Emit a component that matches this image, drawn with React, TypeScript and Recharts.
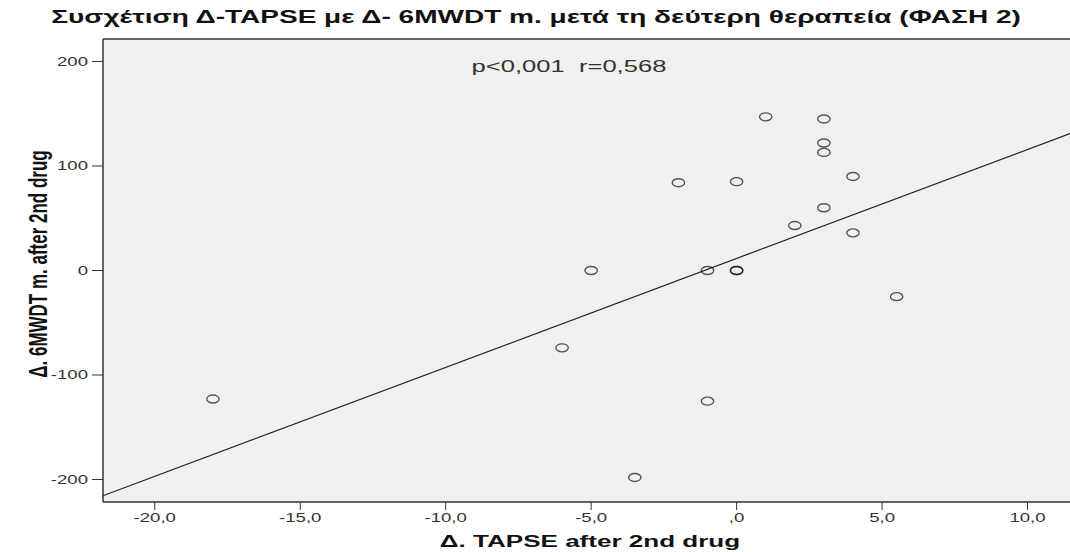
import React, { useLayoutEffect, useRef, useState } from 'react';
import { ScatterChart, Scatter, XAxis, YAxis, CartesianGrid, ReferenceLine } from 'recharts';

// Δ TAPSE (x) and Δ 6MWDT (y) per patient, after the 2nd drug
const tapseDelta = [-18, -6, -5, -3.5, -2, -1, -1, 0, 0, 0, 1, 2, 3, 3, 3, 3, 4, 4, 5.5];
const walkDelta = [-123, -74, 0, -198, 84, 0, -125, 0, 0, 85, 147, 43, 145, 122, 113, 60, 90, 36, -25];

const xTicks = [-20, -15, -10, -5, 0, 5, 10];
const yTicks = [-200, -100, 0, 100, 200];
const xDomain = [-21.78, 11.46];
const yDomain = [-221.5, 221.5];

// fitted line, value at each side of the plot
const fitX = [-21.78, 11.46];
const fitY = [-215.5, 131];

const points = tapseDelta.map((x, i) => ({ x, y: walkDelta[i] }));

const FONT = '"Liberation Sans", Arial, sans-serif';
const S = 1.55; // horizontal stretch of axis text

const fmtX = (v: number) => (v === 0 ? ',0' : v.toFixed(1).replace('.', ','));

const YTick = ({ x, y, payload }: any) => (
  <text
    transform={`translate(${x},${y}) scale(${S},1)`}
    textAnchor="end"
    dy="0.36em"
    fontFamily={FONT}
    fontSize={12}
    fill="#333"
  >
    {payload.value}
  </text>
);

const XTick = ({ x, y, payload }: any) => (
  <text
    transform={`translate(${x},${y}) scale(${S},1)`}
    textAnchor="middle"
    dy="0.75em"
    fontFamily={FONT}
    fontSize={12}
    fill="#333"
  >
    {fmtX(payload.value)}
  </text>
);

const Ring = ({ cx, cy }: any) => (
  <ellipse cx={cx} cy={cy} rx={6.2} ry={4} fill="none" stroke="#000" strokeOpacity={0.65} strokeWidth={1.4} />
);

// centred text squeezed or stretched horizontally to a given width
const FitText = ({ cx, y, width, children, ...rest }: any) => {
  const ref = useRef<SVGTextElement>(null);
  const [k, setK] = useState(1);
  useLayoutEffect(() => {
    if (ref.current) {
      const len = ref.current.getComputedTextLength();
      if (len > 0) setK(width / len);
    }
  }, [width]);
  return (
    <text ref={ref} transform={`translate(${cx},${y}) scale(${k},1)`} textAnchor="middle" {...rest}>
      {children}
    </text>
  );
};

export default function App() {
  return (
    <div style={{ position: 'absolute', left: 0, top: 0, width: 1070, height: 552, background: '#fff' }}>
      <ScatterChart width={1070} height={552} margin={{ top: 39, right: 0, bottom: 0, left: 0 }}>
        <CartesianGrid fill="#f0f0f0" horizontal={false} vertical={false} />
        <XAxis
          type="number"
          dataKey="x"
          domain={xDomain}
          ticks={xTicks}
          allowDataOverflow
          height={50}
          tickSize={8}
          tickMargin={3}
          axisLine={{ stroke: '#333', strokeWidth: 1.5 }}
          tickLine={{ stroke: '#333' }}
          tick={<XTick />}
        />
        <YAxis
          type="number"
          dataKey="y"
          domain={yDomain}
          ticks={yTicks}
          allowDataOverflow
          width={103}
          tickSize={11}
          tickMargin={4}
          axisLine={{ stroke: '#333', strokeWidth: 1.5 }}
          tickLine={{ stroke: '#333' }}
          tick={<YTick />}
        />
        <ReferenceLine y={yDomain[1]} stroke="#333" strokeWidth={1.5} />
        <ReferenceLine
          segment={[
            { x: fitX[0], y: fitY[0] },
            { x: fitX[1], y: fitY[1] },
          ]}
          stroke="#222"
          strokeWidth={1.2}
          ifOverflow="visible"
        />
        <Scatter data={points} shape={<Ring />} isAnimationActive={false} />
      </ScatterChart>
      <svg width={1070} height={552} style={{ position: 'absolute', left: 0, top: 0, pointerEvents: 'none' }}>
        <FitText cx={536} y={23} width={970} fontFamily={FONT} fontWeight="bold" fontSize={18} fill="#111">
          Συσχέτιση Δ-TAPSE με Δ- 6MWDT m. μετά τη δεύτερη θεραπεία (ΦΑΣΗ 2)
        </FitText>
        <text
          transform={`translate(569,72) scale(${S},1)`}
          textAnchor="middle"
          fontFamily={FONT}
          fontSize={16.5}
          fill="#333"
          style={{ whiteSpace: 'pre' }}
        >
          {'p<0,001  r=0,568'}
        </text>
        <text
          transform={`translate(590,547) scale(${S},1)`}
          textAnchor="middle"
          fontFamily={FONT}
          fontWeight="bold"
          fontSize={16.8}
          fill="#111"
        >
          Δ. TAPSE after 2nd drug
        </text>
        <text
          transform={`translate(47,264) scale(${S},1) rotate(-90)`}
          textAnchor="middle"
          fontFamily={FONT}
          fontWeight="bold"
          fontSize={17}
          fill="#111"
        >
          Δ. 6MWDT m. after 2nd drug
        </text>
      </svg>
    </div>
  );
}
